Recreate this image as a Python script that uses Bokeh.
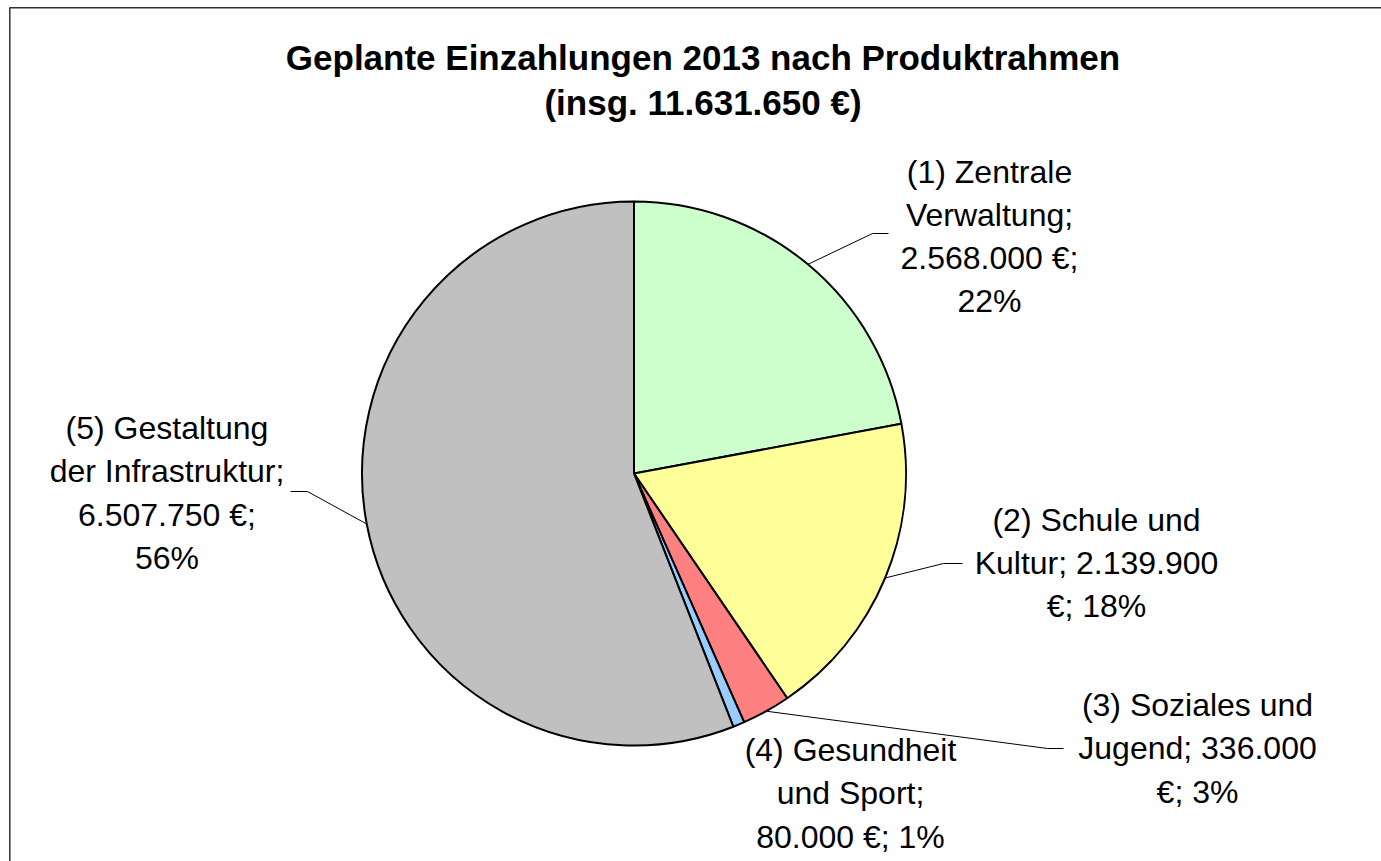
import numpy as np
from bokeh.plotting import figure
from bokeh.models import Range1d, ColumnDataSource
from bokeh.core.properties import value
from bokeh.embed import file_html
from bokeh.resources import INLINE

# ---------------- data ----------------
categories = ["(1) Zentrale Verwaltung", "(2) Schule und Kultur", "(3) Soziales und Jugend",
              "(4) Gesundheit und Sport", "(5) Gestaltung der Infrastruktur"]
values = [2568000, 2139900, 336000, 80000, 6507750]
colors = ["#CCFFCC", "#FFFF99", "#FF8080", "#99CCFF", "#C0C0C0"]
label_lines = [
    ["(1) Zentrale", "Verwaltung;", "2.568.000 €;", "22%"],
    ["(2) Schule und", "Kultur; 2.139.900", "€; 18%"],
    ["(3) Soziales und", "Jugend; 336.000", "€; 3%"],
    ["(4) Gesundheit", "und Sport;", "80.000 €; 1%"],
    ["(5) Gestaltung", "der Infrastruktur;", "6.507.750 €;", "56%"],
]
title_lines = ["Geplante Einzahlungen 2013 nach Produktrahmen", "(insg. 11.631.650 €)"]

# ---------------- layout ----------------
W, H = 1381, 861


def X(px):
    return px


def Y(py):
    return H - py


CX, CY, R = X(633.5), Y(473), 272
FONT = "Liberation Sans"
LINE_STEP = 43.3
TEXT_SHIFT = -12
# label block: (center x, first baseline y) in page pixels
label_pos = [(989, 183), (1096, 531), (1197, 716.5), (850, 761.5), (166.5, 439.5)]
# leader elbow / end points in page pixels (None = no leader)
leaders = [((872, 233), (888, 233)), ((943, 563), (962, 563)), ((1047, 748), (1063, 748)),
           None, ((307, 491), (290, 491))]

p = figure(width=W, height=H, x_range=Range1d(0, W), y_range=Range1d(0, H),
           output_backend="svg", toolbar_location=None, min_border=0,
           x_axis_type=None, y_axis_type=None)
p.outline_line_color = None
p.background_fill_color = "white"
p.border_fill_color = "white"

# chart border (only top and left edges are within the view)
p.line(x=[X(9.3), X(9.3), W + 20], y=[-20, Y(7.3), Y(7.3)], line_color="#303030", line_width=1.5)

# pie
vals = np.array(values, dtype=float)
frac = vals / vals.sum()
cum = np.concatenate([[0.0], np.cumsum(frac)])
start = np.pi / 2 - 2 * np.pi * cum[1:]
end = np.pi / 2 - 2 * np.pi * cum[:-1]
src = ColumnDataSource(dict(start=start, end=end, color=colors, cat=categories))
p.wedge(x=CX, y=CY, radius=R, start_angle="start", end_angle="end", fill_color="color",
        line_color="black", line_width=2, source=src)

# leader lines
mid = np.pi / 2 - 2 * np.pi * (cum[:-1] + frac / 2)
xs, ys = [], []
for i, ld in enumerate(leaders):
    if ld is None:
        continue
    ex, ey = CX + R * np.cos(mid[i]), CY + R * np.sin(mid[i])
    (bx, by), (tx, ty) = ld
    xs.append([ex, X(bx), X(tx)])
    ys.append([ey, Y(by), Y(ty)])
p.multi_line(xs=xs, ys=ys, line_color="black", line_width=1)

# labels
tx, ty, tt = [], [], []
for (lx, ly), lines in zip(label_pos, label_lines):
    for k, s in enumerate(lines):
        tx.append(X(lx))
        ty.append(Y(ly + k * LINE_STEP + TEXT_SHIFT))
        tt.append(s)
p.text(x=tx, y=ty, text=tt, text_font=value(FONT), text_font_size="32px",
       text_align="center", text_baseline="alphabetic", text_color="black")

# title
p.text(x=[X(702.5), X(702.5)], y=[Y(70 - 13), Y(115 - 13)], text=title_lines, text_font=value(FONT),
       text_font_size="35px", text_font_style="bold", text_align="center",
       text_baseline="alphabetic", text_color="black")

open("out.html", "w").write(file_html(p, INLINE))
